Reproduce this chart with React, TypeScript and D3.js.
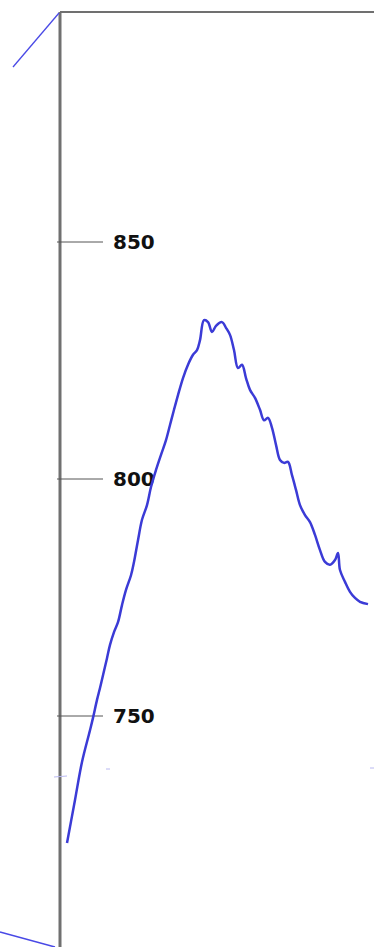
import React from "react";
import * as d3 from "d3";

// Sample position along the run (time index) and the measured reading at that step
const steps = [0, 8, 15, 23, 26, 30, 33, 36, 40, 43, 47, 51, 55, 59, 64, 67, 71, 75, 80, 84, 89, 94, 99, 103, 107, 111, 116, 121, 126, 130, 133, 137, 141, 145, 149, 155, 159, 163, 167, 171, 175, 179, 183, 188, 193, 197, 201, 205, 209, 213, 217, 221, 225, 229, 233, 238, 243, 248, 253, 258, 263, 268, 271, 273, 278, 283, 288, 293, 301];
const readings = [723.2, 732.3, 740.3, 747.0, 749.6, 753.4, 755.9, 758.6, 762.2, 765.0, 767.7, 769.8, 773.4, 776.6, 779.7, 782.5, 787.1, 791.4, 794.5, 798.3, 801.9, 805.1, 808.2, 811.4, 814.6, 817.7, 821.3, 824.1, 826.2, 827.2, 829.3, 833.5, 833.1, 831.0, 832.3, 833.1, 831.9, 830.4, 827.2, 823.4, 824.1, 821.3, 818.8, 817.1, 814.6, 812.4, 812.9, 810.8, 807.2, 804.0, 803.4, 803.6, 800.8, 797.7, 794.5, 792.4, 790.9, 788.2, 785.0, 782.5, 781.9, 782.9, 784.4, 780.8, 778.3, 776.2, 774.9, 774.1, 773.6];
const tickValues = [850, 800, 750];

const W = 374;
const H = 947;
const axisX = 60;
const topY = 12;

export default function App() {
  const y = d3.scaleLinear().domain([750, 850]).range([716, 242]);
  const x = d3.scaleLinear().domain([0, 301]).range([67, 368]);

  const line = d3
    .line<number>()
    .x((_, i) => x(steps[i]))
    .y((d) => y(d))
    .curve(d3.curveCatmullRom.alpha(0.5));

  const path = line(readings) || "";

  return (
    <svg
      width={W}
      height={H}
      style={{ position: "absolute", left: 0, top: 0, background: "#fff" }}
    >
      <defs>
        <filter id="soft" x="-10%" y="-10%" width="120%" height="120%">
          <feGaussianBlur stdDeviation="0.6" />
        </filter>
      </defs>

      {/* frame: left axis and top border */}
      <line x1={axisX} y1={topY} x2={axisX} y2={H} stroke="#707070" strokeWidth={3} />
      <line x1={axisX} y1={topY} x2={W} y2={topY} stroke="#707070" strokeWidth={2} />

      {/* ticks and labels */}
      {tickValues.map((v) => (
        <g key={v}>
          <line x1={57} x2={103} y1={y(v)} y2={y(v)} stroke="#555" strokeWidth={1} />
          <text
            x={113}
            y={y(v)}
            dy="0.36em"
            fontFamily="DejaVu Sans, Verdana, sans-serif"
            fontWeight="bold"
            fontSize={20}
            fill="#111"
          >
            {v}
          </text>
        </g>
      ))}

      {/* connector strokes outside the plot */}
      <g filter="url(#soft)">
        <line x1={13} y1={67} x2={59} y2={13} stroke="#4a4ae6" strokeWidth={1.3} />
        <line x1={0} y1={932} x2={55} y2={947} stroke="#4a4ae6" strokeWidth={1.3} />
        <line x1={54} y1={777} x2={67} y2={776} stroke="#b8b8f0" strokeWidth={1} />
        <line x1={106} y1={769} x2={110} y2={769} stroke="#b8b8f0" strokeWidth={1} />
        <line x1={370} y1={768} x2={374} y2={768} stroke="#b8b8f0" strokeWidth={1} />
      </g>

      {/* series */}
      <path
        d={path}
        fill="none"
        stroke="#3a3ad6"
        strokeWidth={2.5}
        strokeLinejoin="round"
        filter="url(#soft)"
      />
    </svg>
  );
}
